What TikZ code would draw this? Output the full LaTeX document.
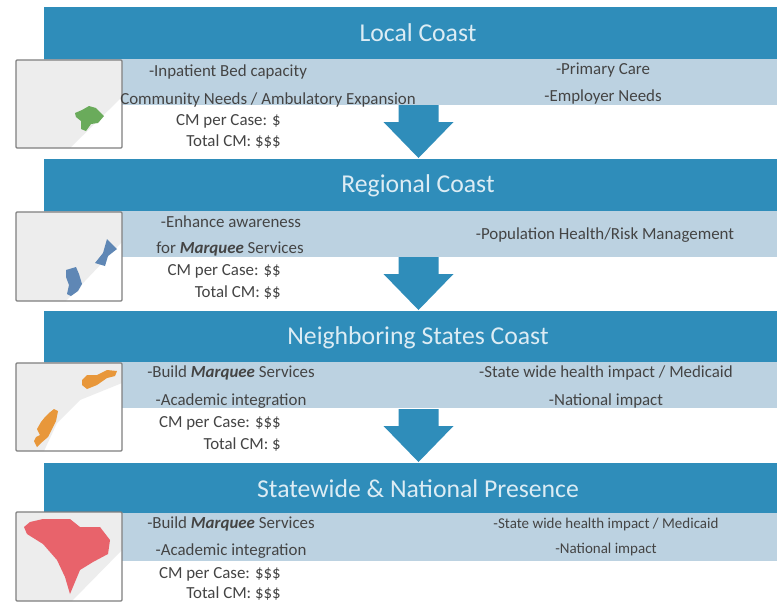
\documentclass[tikz,border=0pt]{standalone}
\usepackage{fontspec}
\setmainfont{Carlito}
\definecolor{hdr}{HTML}{2F8DBA}
\definecolor{bandc}{HTML}{BCD2E1}
\definecolor{txt}{HTML}{444444}
\definecolor{land}{HTML}{EDEDED}
\definecolor{frm}{HTML}{7F7F7F}
\definecolor{titlec}{HTML}{DCECF4}
\definecolor{mgreen}{HTML}{6AAB5B}
\definecolor{mblue}{HTML}{5F87B5}
\definecolor{morange}{HTML}{E8973A}
\definecolor{mred}{HTML}{E8636B}
\tikzset{x=1pt,y=-1pt,
 hdrbox/.style={fill=hdr,draw=none,minimum width=733pt,minimum height=52pt,inner sep=0pt,anchor=north west},
 bandbox/.style={fill=bandc,draw=none,minimum width=733pt,minimum height=46pt,inner sep=0pt,anchor=north west},
 title/.style={text=titlec,inner sep=0pt,font=\fontsize{25.7}{28}\selectfont},
 lbl/.style={text=txt,inner sep=0pt,font=\fontsize{16.9}{19}\selectfont},
 lblsmall/.style={lbl,font=\fontsize{15}{17}\selectfont},
 flow/.style={fill=hdr,draw=none},
 mapframe/.style={draw=frm,line width=1.3pt,rounded corners=1pt},
}
\begin{document}
\begin{tikzpicture}
\useasboundingbox (0,0) rectangle (777,603);
\fill[white] (0,0) rectangle (777,603);
% headers and bands
\node[bandbox] (b1) at (44,59) {};
\node[bandbox] (b2) at (44,211) {};
\node[bandbox] (b3) at (44,362) {};
\node[bandbox,minimum height=48pt] (b4) at (44,513) {};
\node[hdrbox] (h1) at (44,7) {};
\node[hdrbox] (h2) at (44,159) {};
\node[hdrbox,minimum height=51pt] (h3) at (44,311) {};
\node[hdrbox,minimum height=50pt] (h4) at (44,463) {};
\node[title] (t1) at (418,32.5) {Local Coast};
\node[title] (t2) at (418,186) {Regional Coast};
\node[title] (t3) at (418,338) {Neighboring States Coast};
\node[title] (t4) at (418,488.5) {Statewide \& National Presence};
% block arrows
\coordinate (a1) at (418.5,158);
\coordinate (a2) at (418.5,310);
\coordinate (a3) at (418.5,462);
\foreach \tip in {a1,a2,a3}
 \fill[flow] (\tip) -- ++(-35,-36) -- ++(15,0) -- ++(0,-17) -- ++(40,0) -- ++(0,17) -- ++(15,0) -- cycle;
% maps
\begin{scope}[shift={(16,60)}]
 \fill[white] (0,0) rectangle (106,88);
 \fill[land] (0,0) -- (106,0) -- (106,37) -- (54,88) -- (0,88) -- cycle;
 \fill[mgreen] (59,53) -- (66,50) -- (73,46) -- (80,48) -- (88,56) -- (82,63) -- (75,64) -- (70,71) -- (65,69) -- (65,61) -- (60,57) -- cycle;
 \draw[mapframe] (0,0) rectangle (106,88);
\end{scope}
\begin{scope}[shift={(16,212)}]
 \fill[white] (0,0) rectangle (106,89);
 \fill[land] (0,0) -- (106,0) -- (106,30) -- (50,89) -- (0,89) -- cycle;
 \fill[mblue] (91,27) -- (101,37) -- (92,44) -- (89,54) -- (79,51) -- (87,41) -- cycle;
 \fill[mblue] (50,58) -- (60,55) -- (63,62) -- (66,72) -- (62,79) -- (55,84) -- (51,82) -- (53,73) -- (50,65) -- cycle;
 \draw[mapframe] (0,0) rectangle (106,89);
\end{scope}
\begin{scope}[shift={(16,363)}]
 \fill[white] (0,0) rectangle (106,88);
 \fill[land] (0,0) -- (106,0) -- (106,20) -- (64,37) -- (41,60) -- (28,88) -- (0,88) -- cycle;
 \fill[morange] (66,17) -- (71,12) -- (81,12) -- (91,7) -- (101,8) -- (99,13) -- (91,15) -- (81,22) -- (71,26) -- (66,22) -- cycle;
 \fill[morange] (33,50) -- (38,46) -- (42,48) -- (40,58) -- (36,66) -- (32,74) -- (25,80) -- (21,84) -- (18,78) -- (20,74) -- (24,72) -- (21,66) -- (25,59) -- (29,54) -- cycle;
 \draw[mapframe] (0,0) rectangle (106,88);
\end{scope}
\begin{scope}[shift={(16,512)}]
 \fill[white] (0,0) rectangle (106,89);
 \fill[land] (0,0) -- (106,0) -- (106,38) -- (56,89) -- (0,89) -- cycle;
 \fill[mred] (8,15) -- (14,10) -- (27,7) -- (54,7) -- (64,15) -- (84,15) -- (94,28) -- (92,42) -- (77,50) -- (64,58) -- (59,70) -- (54,82) -- (49,65) -- (41,48) -- (27,32) -- (11,22) -- cycle;
 \draw[mapframe] (0,0) rectangle (106,89);
\end{scope}
% left texts
\node[lbl] (l11) at (228,72) {-Inpatient Bed capacity};
\node[lbl] (l12) at (268,100) {Community Needs / Ambulatory Expansion};
\node[lbl,anchor=east] (l13) at (281,121) {CM per Case: \$};
\node[lbl,anchor=east] (l14) at (281,142) {Total CM: \$\$\$};
\node[lbl] (l21) at (231,222) {-Enhance awareness};
\node[lbl] (l22) at (230,249) {for \textit{\textbf{Marquee}} Services};
\node[lbl,anchor=east] (l23) at (281,271) {CM per Case: \$\$};
\node[lbl,anchor=east] (l24) at (281,293) {Total CM: \$\$};
\node[lbl] (l31) at (231,373) {-Build \textit{\textbf{Marquee}} Services};
\node[lbl] (l32) at (231,401) {-Academic integration};
\node[lbl,anchor=east] (l33) at (281,423) {CM per Case: \$\$\$};
\node[lbl,anchor=east] (l34) at (281,445) {Total CM: \$};
\node[lbl] (l41) at (231,524) {-Build \textit{\textbf{Marquee}} Services};
\node[lbl] (l42) at (231,551) {-Academic integration};
\node[lbl,anchor=east] (l43) at (281,574) {CM per Case: \$\$\$};
\node[lbl,anchor=east] (l44) at (281,594) {Total CM: \$\$\$};
% right texts
\node[lbl] (r11) at (603,70) {-Primary Care};
\node[lbl] (r12) at (603,97) {-Employer Needs};
\node[lbl] (r21) at (605,235) {-Population Health/Risk Management};
\node[lbl] (r31) at (606,373) {-State wide health impact / Medicaid};
\node[lbl] (r32) at (606,401) {-National impact};
\node[lblsmall] (r41) at (606,524) {-State wide health impact / Medicaid};
\node[lblsmall] (r42) at (606,549) {-National impact};
\end{tikzpicture}
\end{document}
